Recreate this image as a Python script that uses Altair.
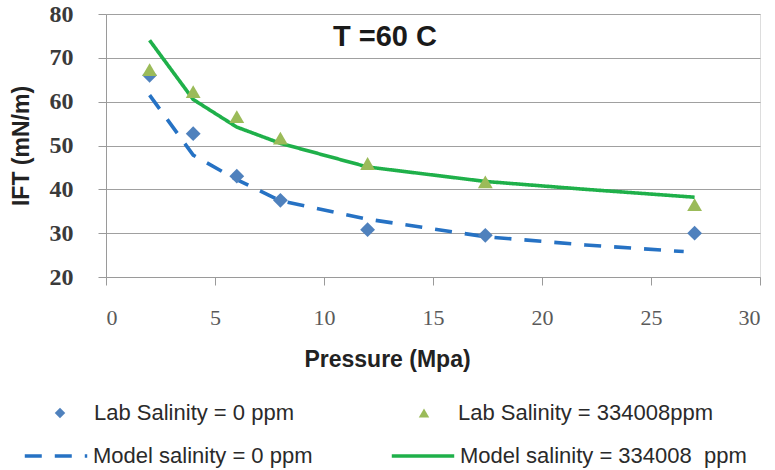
import altair as alt
import pandas as pd

# Lab measurements
lab_pressure = [2, 4, 6, 8, 12, 17.4, 27]
lab_ift_0 = [66.0, 52.7, 43.0, 37.5, 30.8, 29.5, 30.0]
lab_ift_334008 = [67.3, 62.3, 56.6, 51.7, 45.9, 41.7, 36.5]

# Model curves
model_p_0 = [2, 4, 6, 8, 12, 17.4, 22, 26.5]
model_ift_0 = [61.5, 47.8, 42.2, 37.4, 33.2, 29.2, 27.3, 25.8]
model_p_334008 = [2, 4, 6, 8, 12, 17.4, 22, 27]
model_ift_334008 = [74.0, 60.5, 54.2, 50.5, 45.1, 41.8, 40.0, 38.2]

lab_names = ["Lab Salinity = 0 ppm", "Lab Salinity = 334008ppm"]
model_names = ["Model salinity = 0 ppm", "Model salinity = 334008\u00a0\u00a0ppm"]

lab_df = pd.concat([
    pd.DataFrame({"p": lab_pressure, "ift": lab_ift_0, "lab": lab_names[0]}),
    pd.DataFrame({"p": lab_pressure, "ift": lab_ift_334008, "lab": lab_names[1]}),
])
model_df = pd.concat([
    pd.DataFrame({"p": model_p_0, "ift": model_ift_0, "model": model_names[0]}),
    pd.DataFrame({"p": model_p_334008, "ift": model_ift_334008, "model": model_names[1]}),
])

xenc = alt.X("p:Q", scale=alt.Scale(domain=[0, 30], nice=False),
             axis=alt.Axis(title="Pressure (Mpa)", values=[0, 5, 10, 15, 20, 25, 30],
                           grid=False, tickSize=8, tickColor="#9a9a9a",
                           domainColor="#9a9a9a", labelFont="Liberation Sans Narrow",
                           labelFontSize=22, labelColor="#5a5a5a", labelPadding=22,
                           titleFont="Liberation Sans", titleFontSize=23, titleFontWeight="bold",
                           titleColor="#222222", titlePadding=20, titleX=281))
yenc = alt.Y("ift:Q", scale=alt.Scale(domain=[20, 80], nice=False),
             axis=alt.Axis(title="IFT (mN/m)", values=[20, 30, 40, 50, 60, 70, 80],
                           gridColor="#a0a0a0", gridWidth=1.2, tickSize=8,
                           tickColor="#9a9a9a", domainColor="#9a9a9a",
                           labelFont="Liberation Sans Narrow", labelFontWeight="bold",
                           labelFontSize=24, labelColor="#3a3a3a", labelPadding=25,
                           titleFont="Liberation Sans", titleFontSize=23, titleFontWeight="bold",
                           titleColor="#222222", titlePadding=16))

model_legend = dict(title=None, orient="none", legendX=-83, legendY=409,
                    columns=2, columnPadding=71, symbolType="stroke",
                    symbolSize=3900, symbolStrokeWidth=3.5, labelLimit=0,
                    labelFont="Liberation Sans", labelFontSize=22,
                    labelColor="#2a2a2a", labelOffset=4)
lab_legend = dict(title=None, orient="none", legendX=-57, legendY=388,
                  columns=2, columnPadding=119, symbolSize=110, labelLimit=0,
                  labelFont="Liberation Sans", labelFontSize=22,
                  labelColor="#2a2a2a", labelOffset=23)

lines = alt.Chart(model_df).mark_line(strokeWidth=3.6, strokeCap="butt").encode(
    x=xenc, y=yenc,
    color=alt.Color("model:N",
                    scale=alt.Scale(domain=model_names, range=["#2672c4", "#1fb04a"]),
                    legend=alt.Legend(**model_legend)),
    strokeDash=alt.StrokeDash("model:N",
                              scale=alt.Scale(domain=model_names, range=[[17, 13], [1, 0]]),
                              legend=alt.Legend(**model_legend)),
    order="p:Q",
)

points = alt.Chart(lab_df).mark_point(filled=True, opacity=1, size=220).encode(
    x=xenc, y=yenc,
    color=alt.Color("lab:N",
                    scale=alt.Scale(domain=lab_names, range=["#4f81bd", "#9bbb59"]),
                    legend=alt.Legend(**lab_legend)),
    shape=alt.Shape("lab:N",
                    scale=alt.Scale(domain=lab_names, range=["diamond", "triangle-up"]),
                    legend=alt.Legend(**lab_legend)),
)

chart = alt.layer(lines, points).resolve_scale(
    color="independent", shape="independent", strokeDash="independent"
).properties(
    width=654, height=263,
    autosize=alt.AutoSizeParams(type="none"),
    padding={"left": 106, "top": 14, "right": 15, "bottom": 193},
    title=alt.TitleParams("T =60 C", font="Liberation Sans", fontSize=29, fontWeight="bold",
                          color="#1a1a1a", anchor="middle", offset=0, dy=50, dx=-48),
).configure_view(stroke="#808080", strokeWidth=1.2).configure(background="white")

chart.save("out.html", embed_options={"renderer": "svg", "actions": False})
